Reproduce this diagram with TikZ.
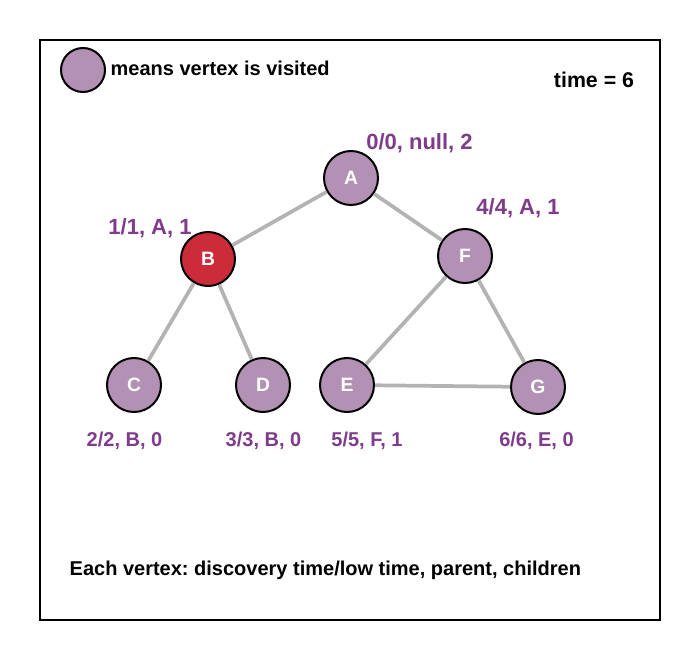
\documentclass[tikz,border=0pt]{standalone}
\usepackage{fontspec}
\setmainfont{Liberation Sans}
\frenchspacing
\definecolor{visited}{HTML}{B391B5}
\definecolor{current}{HTML}{CC2B3A}
\definecolor{info}{HTML}{7E3C8A}
\definecolor{edgegray}{HTML}{B3B3B3}
\begin{document}
\begin{tikzpicture}[x=0.75pt,y=-0.75pt,every node/.style={font=\bfseries\fontsize{15}{18}\selectfont}]
    \tikzset{
      vertex/.style={circle,draw=black,line width=1.5pt,fill=visited,text=white,minimum size=40.5pt,inner sep=0pt,font=\bfseries\fontsize{14.5}{17}\selectfont},
      edge/.style={draw=edgegray,line width=2.8pt},
      info/.style={text=info},
      infobig/.style={info,font=\bfseries\fontsize{16.5}{19}\selectfont}
    }
    \useasboundingbox (0,0) rectangle (700,660);
    \draw[line width=1.2pt] (40,40) rectangle (660,620);

    \node[vertex,minimum size=33pt] (legend) at (83,70) {};
    \node[anchor=west] (legendtext) at (106,68) {means vertex is visited};
    \node[font=\bfseries\fontsize{16}{19}\selectfont] (time) at (594,80) {time = 6};

    \node[vertex] (A) at (351,178) {A};
    \node[vertex,fill=current] (B) at (208,259) {B};
    \node[vertex] (F) at (465,256) {F};
    \node[vertex] (C) at (134,385) {C};
    \node[vertex] (D) at (263,385) {D};
    \node[vertex] (E) at (347,385) {E};
    \node[vertex] (G) at (538,387) {G};

    \draw[edge] (A)--(B);
    \draw[edge] (A)--(F);
    \draw[edge] (B)--(C);
    \draw[edge] (B)--(D);
    \draw[edge] (F)--(E);
    \draw[edge] (F)--(G);
    \draw[edge] (E)--(G);

    \node[infobig] (lA) at (419.5,143) {0/0, null, 2};
    \node[infobig] (lB) at (150,228) {1/1, A, 1};
    \node[infobig] (lF) at (518,208) {4/4, A, 1};
    \node[info] (lC) at (124.5,441) {2/2, B, 0};
    \node[info] (lD) at (263.5,441) {3/3, B, 0};
    \node[info] (lE) at (367,441) {5/5, F, 1};
    \node[info] (lG) at (536.5,441) {6/6, E, 0};

    \node[anchor=west] (note) at (65,570) {Each vertex: discovery time/low time, parent, children};
  \end{tikzpicture}
\end{document}
